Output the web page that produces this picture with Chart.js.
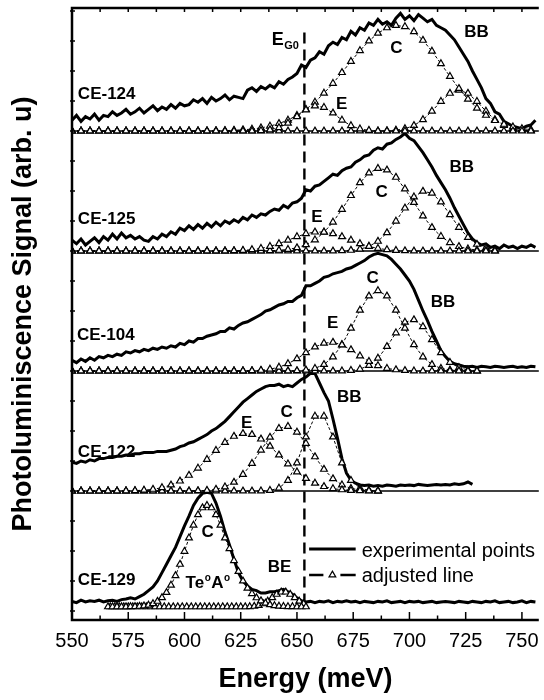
<!DOCTYPE html>
<html>
<head>
<meta charset="utf-8">
<script src="https://cdn.jsdelivr.net/npm/chart.js@4.4.0/dist/chart.umd.min.js"></script>
<style>
  html, body { margin: 0; padding: 0; background: #fff; }
  canvas { display: block; }
</style>
</head>
<body>
<canvas id="grafico" width="544" height="700"></canvas>
<script>
// energy grids (meV)
var expStart = 550, expStep = 2;      // experimental points
var fitStart = 550, fitStep = 4;      // adjusted (fit) curves
var teaStart = 566, beStart = 567, fine = 2;   // CE-129 fits

var xTicks = [550, 575, 600, 625, 650, 675, 700, 725, 750];
var eG0 = 653.3;

// experimental spectra, 550..756 meV every 2 meV (CE-122 stops at 728)
var exp124 = [
  0.09,0.13,0.08,0.12,0.10,0.14,0.09,0.13,0.12,0.16,
  0.13,0.15,0.18,0.14,0.16,0.19,0.15,0.18,0.21,0.17,
  0.20,0.18,0.22,0.19,0.23,0.21,0.22,0.26,0.24,0.27,
  0.23,0.28,0.25,0.27,0.30,0.26,0.29,0.28,0.27,0.34,
  0.36,0.33,0.37,0.35,0.38,0.36,0.41,0.39,0.43,0.45,
  0.48,0.55,0.53,0.59,0.61,0.66,0.64,0.71,0.74,0.72,
  0.78,0.76,0.83,0.80,0.86,0.84,0.90,0.88,0.93,0.89,
  0.91,0.88,0.94,0.98,0.93,0.96,0.92,0.97,0.94,0.91,
  0.93,0.88,0.86,0.84,0.80,0.76,0.70,0.64,0.58,0.50,
  0.43,0.36,0.27,0.23,0.16,0.14,0.08,0.06,0.04,0.03,
  0.02,0.04,0.05,0.09];
var exp125 = [
  0.09,0.06,0.10,0.05,0.08,0.11,0.07,0.12,0.09,0.14,
  0.10,0.15,0.11,0.13,0.10,0.12,0.09,0.08,0.12,0.10,
  0.14,0.12,0.16,0.14,0.19,0.17,0.21,0.18,0.22,0.19,
  0.23,0.20,0.24,0.21,0.25,0.23,0.26,0.24,0.28,0.26,
  0.30,0.28,0.31,0.30,0.33,0.35,0.34,0.38,0.36,0.40,
  0.41,0.44,0.51,0.50,0.54,0.55,0.58,0.61,0.64,0.63,
  0.67,0.69,0.70,0.74,0.76,0.79,0.80,0.84,0.86,0.85,
  0.89,0.90,0.93,0.95,0.98,0.94,0.92,0.87,0.82,0.76,
  0.70,0.63,0.57,0.51,0.44,0.36,0.29,0.22,0.15,0.10,
  0.07,0.05,0.06,0.03,0.04,0.02,0.05,0.03,0.04,0.02,
  0.04,0.03,0.05,0.03];
var exp104 = [
  0.09,0.07,0.10,0.08,0.11,0.09,0.12,0.11,0.13,0.12,
  0.14,0.13,0.16,0.15,0.17,0.16,0.18,0.17,0.19,0.18,
  0.20,0.19,0.21,0.20,0.23,0.22,0.25,0.24,0.27,0.27,
  0.29,0.30,0.31,0.33,0.33,0.36,0.35,0.38,0.40,0.41,
  0.43,0.45,0.47,0.50,0.51,0.53,0.55,0.56,0.58,0.58,
  0.61,0.63,0.71,0.71,0.73,0.75,0.78,0.79,0.81,0.82,
  0.83,0.85,0.86,0.88,0.90,0.92,0.95,0.97,0.98,0.97,
  0.96,0.93,0.89,0.85,0.80,0.75,0.68,0.59,0.50,0.42,
  0.33,0.25,0.17,0.12,0.08,0.06,0.05,0.04,0.035,0.04,
  0.03,0.04,0.035,0.03,0.04,0.035,0.03,0.035,0.04,0.03,
  0.035,0.03,0.04,0.035];
var exp122 = [
  0.24,0.23,0.25,0.24,0.26,0.25,0.27,0.27,0.28,0.28,
  0.29,0.29,0.30,0.30,0.31,0.31,0.32,0.32,0.32,0.33,
  0.33,0.33,0.34,0.35,0.37,0.38,0.40,0.41,0.43,0.45,
  0.47,0.50,0.52,0.55,0.58,0.62,0.66,0.70,0.74,0.77,
  0.80,0.83,0.85,0.87,0.88,0.88,0.89,0.87,0.88,0.87,
  0.90,0.93,0.95,0.98,0.98,0.90,0.82,0.75,0.60,0.44,
  0.27,0.15,0.09,0.065,0.05,0.045,0.05,0.04,0.045,0.04,
  0.05,0.045,0.04,0.05,0.045,0.05,0.045,0.055,0.05,0.045,
  0.05,0.055,0.05,0.055,0.05,0.06,0.055,0.06,0.075,0.055];
var exp129 = [
  0.08,0.07,0.09,0.075,0.085,0.08,0.09,0.075,0.085,0.09,
  0.08,0.095,0.10,0.11,0.10,0.12,0.14,0.17,0.20,0.25,
  0.32,0.39,0.46,0.53,0.62,0.71,0.79,0.88,0.94,0.98,
  0.99,0.98,0.90,0.79,0.66,0.55,0.43,0.32,0.25,0.21,
  0.18,0.17,0.15,0.15,0.16,0.16,0.17,0.18,0.16,0.14,
  0.11,0.085,0.075,0.08,0.07,0.08,0.075,0.085,0.07,0.08,
  0.075,0.085,0.075,0.08,0.07,0.08,0.075,0.07,0.08,0.075,
  0.085,0.07,0.075,0.08,0.07,0.08,0.075,0.08,0.07,0.075,
  0.08,0.07,0.075,0.08,0.075,0.07,0.08,0.075,0.07,0.08,
  0.075,0.07,0.08,0.075,0.085,0.07,0.075,0.08,0.07,0.075,
  0.085,0.07,0.08,0.075];

// adjusted peaks, 550 meV onwards every 4 meV
var fit124E = [
  0,0,0,0,0,0,0,0,0,0, 0,0,0,0,0,0,0,0,0,0, 0,
  0.003,0.01,0.028,0.065,0.12,0.176,0.209,0.197,0.15,0.091,0.044,0.017,0.005,
  0,0,0,0,0,0,0,0,0,0, 0,0,0,0,0,0,0,0];
var fit124C = [
  0,0,0,0,0,0,0,0,0,0, 0,0,0,0,0,0,
  0.002,0.003,0.006,0.01,0.016,0.026,0.041,0.062,0.091,0.13,0.18,0.241,0.315,0.397,
  0.487,0.58,0.67,0.75,0.815,0.86,0.88,0.87,0.828,0.756,0.665,0.561,0.455,0.354,
  0.265,0.19,0.131,0.087,0.056,0.034,0.02,0.011];
var fit124BB = [
  0,0,0,0,0,0,0,0,0,0, 0,0,0,0,0,0,0,0,0,0, 0,0,0,0,0,0,0,0,0,0, 0,0,0,0,0,
  0.002,0.007,0.019,0.046,0.094,0.165,0.247,0.314,0.34,0.314,0.247,0.165,0.094,
  0.046,0.019,0.007,0.002];
var fit125E = [
  0,0,0,0,0,0,0,0,0,0, 0,0,0,0,0,0,0,0,
  0.002,0.005,0.011,0.022,0.038,0.061,0.09,0.119,0.144,0.158,0.158,0.144,0.119,
  0.09,0.061,0.038,0.022,0.011,0.005,0.002,
  0,0,0,0,0,0,0,0,0,0];
var fit125C = [
  0,0,0,0,0,0,0,0,0,0, 0,0,0,0,0,0,0,0,0,0, 0,0,
  0.002,0.006,0.013,0.027,0.052,0.093,0.156,0.241,0.347,0.462,0.569,0.65,0.688,
  0.675,0.614,0.517,0.404,0.292,0.196,0.122,0.07,0.037,0.018,0.008,0.004,0.001];
var fit125BB = [
  0,0,0,0,0,0,0,0,0,0, 0,0,0,0,0,0,0,0,0,0, 0,0,0,0,0,0,0,0,0,0,
  0.002,0.006,0.015,0.038,0.081,0.152,0.249,0.358,0.451,0.498,0.482,0.409,0.303,
  0.197,0.113,0.056,0.025,0.009];
var fit104E = [
  0,0,0,0,0,0,0,0,0,0, 0,0,0,0,0,0,0,0,0,
  0.001,0.002,0.006,0.015,0.032,0.061,0.102,0.152,0.2,0.232,0.239,0.218,0.177,
  0.126,0.08,0.045,0.022,0.01,0.004,0.001,
  0,0,0,0,0,0,0];
var fit104C = [
  0,0,0,0,0,0,0,0,0,0, 0,0,0,0,0,0,0,0,0,0, 0,0,0,0,0,
  0.002,0.008,0.022,0.054,0.117,0.219,0.357,0.507,0.625,0.67,0.625,0.507,0.357,
  0.219,0.117,0.054,0.022,0.008,0.002,
  0,0];
var fit104BB = [
  0,0,0,0,0,0,0,0,0,0, 0,0,0,0,0,0,0,0,0,0, 0,0,0,0,0,0,0,0,0,0,
  0.001,0.005,0.016,0.046,0.107,0.204,0.318,0.407,0.427,0.369,0.261,0.152,0.072,
  0.028,0.009,0.002];
var fit122E = [
  0,0,0,0,0,0,
  0.001,0.003,0.007,0.014,0.028,0.05,0.083,0.131,0.191,0.263,0.338,0.405,0.456,
  0.479,0.471,0.433,0.373,0.3,0.226,0.159,0.105,0.065,0.037,0.02,0.01,0.005,
  0.002,0.001,0];
var fit122C = [
  0,0,0,0,0,0,0,0,0,0, 0,0,0,0,
  0.002,0.005,0.014,0.034,0.073,0.138,0.23,0.341,0.448,0.522,0.538,0.491,0.397,
  0.285,0.181,0.102,0.051,0.022,0.009,0.003,0.001];
var fit122BB = [
  0,0,0,0,0,0,0,0,0,0, 0,0,0,0,0,0,0,0,0,0, 0,
  0.001,0.005,0.024,0.088,0.234,0.45,0.624,0.624,0.45,0.234,0.088,0.024,0.005,0.001];
// CE-129: TeºAº from 566 meV and BE from 567 meV, every 2 meV
var fit129TeA = [
  0.035,0.035,0.035,0.035,0.035,0.036,0.037,0.039,0.042,0.049,
  0.061,0.081,0.111,0.154,0.215,0.294,0.389,0.497,0.609,0.715,
  0.802,0.86,0.88,0.86,0.802,0.715,0.609,0.52,0.42,0.33,
  0.25,0.19,0.145,0.11,0.085,0.065,0.052,0.044,0.04,0.038,
  0.036,0.036,0.035,0.035,0.035];
var fit129BE = [
  0.035,0.035,0.035,0.035,0.035,0.035,0.035,0.035,0.035,0.035,
  0.035,0.035,0.035,0.035,0.035,0.035,0.035,0.035,0.035,0.035,
  0.035,0.035,0.035,0.035,0.035,0.035,0.035,0.035,0.035,0.035,
  0.035,0.036,0.039,0.046,0.06,0.082,0.111,0.139,0.158,0.158,
  0.139,0.111,0.082,0.06];

var fonte = '"Liberation Sans", Arial, Helvetica, sans-serif';

// text labels: [text, energy, signal]
var rotulos = [
  ['CE-124', 552.6, 4.267], ['CE-125', 552.6, 3.225], ['CE-104', 552.2, 2.258],
  ['CE-122', 552.6, 1.283], ['CE-129', 552.6, 0.217],
  ['C', 691.5, 4.65], ['BB', 724.4, 4.783], ['E', 667.3, 4.183],
  ['BB', 717.8, 3.658], ['C', 684.9, 3.45], ['E', 656.3, 3.242],
  ['C', 680.9, 2.733], ['BB', 709.5, 2.533], ['E', 663.4, 2.358],
  ['E', 625.1, 1.525], ['C', 642.7, 1.617], ['BB', 667.8, 1.742],
  ['C', 607.6, 0.617], ['BE', 637, 0.325]
];

function pontos(values, start, step, level) {
  return values.map(function (v, i) { return { x: start + i * step, y: v + level }; });
}

function linhaExp(values, level) {
  return {
    data: pontos(values, expStart, expStep, level),
    borderColor: '#000', borderWidth: 3, pointRadius: 0,
    fill: false, tension: 0, order: 2
  };
}

function linhaAjuste(values, start, step, level) {
  return {
    data: pontos(values, start, step, level),
    borderColor: '#000', borderWidth: 1, borderDash: [3, 2],
    pointStyle: 'triangle', pointRadius: 3.9,
    pointBackgroundColor: '#fff', pointBorderColor: '#000', pointBorderWidth: 1.2,
    fill: false, tension: 0, order: 1
  };
}

function triangulo(ctx, x, y, r) {
  ctx.beginPath();
  ctx.moveTo(x, y - r);
  ctx.lineTo(x + 0.866 * r, y + 0.5 * r);
  ctx.lineTo(x - 0.866 * r, y + 0.5 * r);
  ctx.closePath();
  ctx.fillStyle = '#fff';
  ctx.fill();
  ctx.stroke();
}

// frame, inward ticks, separators, dashed E_G0 line, labels and legend
var decoracao = {
  id: 'decoracao',
  beforeDatasetsDraw: function (chart) {
    var ctx = chart.ctx, a = chart.chartArea, x = chart.scales.x, y = chart.scales.y;
    ctx.save();
    ctx.strokeStyle = '#000';
    ctx.lineWidth = 1.5;
    for (var k = 1; k <= 4; k++) {
      var py = y.getPixelForValue(k);
      ctx.beginPath(); ctx.moveTo(a.left, py); ctx.lineTo(a.right, py); ctx.stroke();
    }
    ctx.setLineDash([11, 6]);
    ctx.lineWidth = 2.4;
    var px = x.getPixelForValue(eG0);
    ctx.beginPath();
    ctx.moveTo(px, y.getPixelForValue(4.82));
    ctx.lineTo(px, y.getPixelForValue(0.05));
    ctx.stroke();
    ctx.restore();
  },
  afterDraw: function (chart) {
    var ctx = chart.ctx, a = chart.chartArea, x = chart.scales.x, y = chart.scales.y;
    ctx.save();
    ctx.strokeStyle = '#000';
    ctx.lineWidth = 2.5;
    ctx.beginPath();
    ctx.moveTo(a.right, a.top); ctx.lineTo(a.left, a.top);
    ctx.lineTo(a.left, a.bottom); ctx.lineTo(a.right, a.bottom);
    ctx.stroke();

    ctx.lineWidth = 1.5;
    for (var e = 550; e <= 757.5; e += 12.5) {
      var px = x.getPixelForValue(e);
      var major = xTicks.indexOf(e) >= 0;
      ctx.beginPath();
      ctx.moveTo(px, a.bottom); ctx.lineTo(px, a.bottom - (major ? 8 : 4.5));
      ctx.moveTo(px, a.top); ctx.lineTo(px, a.top + 4);
      ctx.stroke();
    }
    for (var v = 0; v <= 5; v += 0.25) {
      var py = y.getPixelForValue(v);
      ctx.beginPath(); ctx.moveTo(a.left - 2, py); ctx.lineTo(a.left + 3, py); ctx.stroke();
    }

    // labels
    ctx.fillStyle = '#000';
    ctx.textBaseline = 'alphabetic';
    ctx.textAlign = 'left';
    ctx.font = 'bold 17px ' + fonte;
    rotulos.forEach(function (r) {
      ctx.fillText(r[0], x.getPixelForValue(r[1]), y.getPixelForValue(r[2]));
    });
    // TeºAº
    var tx = x.getPixelForValue(600.5), ty = y.getPixelForValue(0.192);
    ctx.font = 'bold 17px ' + fonte;
    ctx.fillText('Te', tx, ty); tx += ctx.measureText('Te').width + 0.5;
    ctx.font = 'bold 10px ' + fonte;
    ctx.fillText('o', tx, ty - 7); tx += ctx.measureText('o').width + 0.5;
    ctx.font = 'bold 17px ' + fonte;
    ctx.fillText('A', tx, ty); tx += ctx.measureText('A').width + 0.5;
    ctx.font = 'bold 10px ' + fonte;
    ctx.fillText('o', tx, ty - 7);
    // E_G0
    var gx = x.getPixelForValue(638.8), gy = y.getPixelForValue(4.717);
    ctx.font = 'bold 18px ' + fonte;
    ctx.fillText('E', gx, gy); gx += ctx.measureText('E').width + 0.5;
    ctx.font = 'bold 11px ' + fonte;
    ctx.fillText('G0', gx, gy + 4);

    // legend
    var lx0 = x.getPixelForValue(655.4), lx1 = x.getPixelForValue(676.1);
    var ly1 = y.getPixelForValue(0.517), ly2 = y.getPixelForValue(0.3);
    ctx.lineWidth = 3;
    ctx.beginPath(); ctx.moveTo(lx0, ly1); ctx.lineTo(lx1, ly1); ctx.stroke();
    ctx.lineWidth = 2.5;
    var mid = (lx0 + lx1) / 2;
    ctx.beginPath();
    ctx.moveTo(lx0, ly2); ctx.lineTo(mid - 9, ly2);
    ctx.moveTo(mid + 8, ly2); ctx.lineTo(lx1, ly2);
    ctx.stroke();
    ctx.lineWidth = 1.2;
    triangulo(ctx, mid, ly2, 3.9);
    ctx.fillStyle = '#000';
    ctx.font = '20px ' + fonte;
    ctx.fillText('experimental points', lx1 + 6, ly1 + 8);
    ctx.fillText('adjusted line', lx1 + 6, ly2 + 7);
    ctx.restore();
  }
};

var datasets = [
  linhaExp(exp124, 4), linhaExp(exp125, 3), linhaExp(exp104, 2),
  linhaExp(exp122, 1), linhaExp(exp129, 0),
  linhaAjuste(fit124E, fitStart, fitStep, 4), linhaAjuste(fit124C, fitStart, fitStep, 4),
  linhaAjuste(fit124BB, fitStart, fitStep, 4),
  linhaAjuste(fit125E, fitStart, fitStep, 3), linhaAjuste(fit125C, fitStart, fitStep, 3),
  linhaAjuste(fit125BB, fitStart, fitStep, 3),
  linhaAjuste(fit104E, fitStart, fitStep, 2), linhaAjuste(fit104C, fitStart, fitStep, 2),
  linhaAjuste(fit104BB, fitStart, fitStep, 2),
  linhaAjuste(fit122E, fitStart, fitStep, 1), linhaAjuste(fit122C, fitStart, fitStep, 1),
  linhaAjuste(fit122BB, fitStart, fitStep, 1),
  linhaAjuste(fit129TeA, teaStart, fine, 0), linhaAjuste(fit129BE, beStart, fine, 0)
];

var ctx = document.getElementById('grafico').getContext('2d');
new Chart(ctx, {
  type: 'line',
  data: { datasets: datasets },
  options: {
    responsive: false,
    animation: false,
    devicePixelRatio: 1,
    layout: { padding: { top: 8, left: 0, right: 0, bottom: 0 } },
    plugins: { legend: { display: false }, tooltip: { enabled: false } },
    scales: {
      x: {
        type: 'linear', min: 550, max: 757.5,
        grid: { display: false, drawTicks: false },
        border: { display: false },
        ticks: {
          stepSize: 25, includeBounds: false, autoSkip: false, maxRotation: 0,
          padding: 9, color: '#000', font: { family: fonte, size: 20 },
          callback: function (v) { return xTicks.indexOf(v) >= 0 ? String(v) : ''; }
        },
        title: {
          display: true, text: 'Energy (meV)', color: '#000',
          font: { family: fonte, size: 27, weight: 'bold' },
          padding: { top: 0, bottom: 4 }
        },
        afterFit: function (s) { s.height = 80; s.paddingLeft = 0; s.paddingRight = 0; }
      },
      y: {
        type: 'linear', min: -0.075, max: 5.025,
        grid: { display: false, drawTicks: false },
        border: { display: false },
        ticks: { display: false, stepSize: 0.25 },
        title: {
          display: true, text: 'Photoluminiscence Signal (arb. u)', color: '#000',
          font: { family: fonte, size: 27, weight: 'bold' },
          padding: { top: 7, bottom: 0 }
        },
        afterFit: function (s) { s.width = 72; }
      }
    }
  },
  plugins: [decoracao]
});
</script>
</body>
</html>
